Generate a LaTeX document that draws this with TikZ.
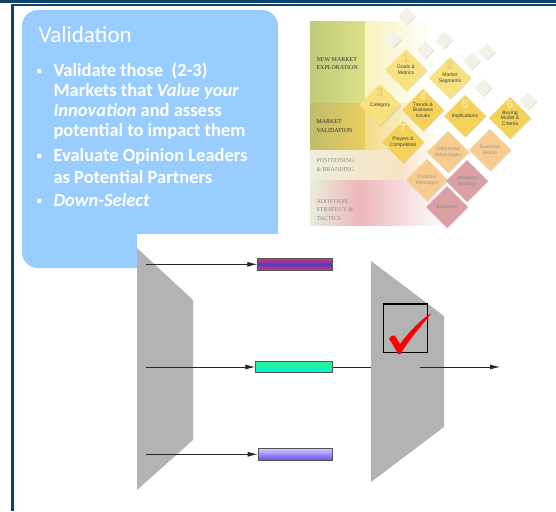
\documentclass[tikz,border=0pt]{standalone}
\usepackage{fontspec}
\setmainfont{Carlito}
\newfontfamily\chartsans{Liberation Sans}
\newfontfamily\chartserif{Liberation Serif}
\usetikzlibrary{shapes.geometric, arrows.meta, shadows}
\definecolor{navy}{HTML}{0D4169}
\definecolor{boxblue}{HTML}{99CCFF}
\definecolor{olivea}{HTML}{C0CA78}
\definecolor{oliveb}{HTML}{DCE08A}
\definecolor{paleyel}{HTML}{F8F2BC}
\definecolor{olivec}{HTML}{BEBE6C}
\definecolor{golda}{HTML}{ECCD5E}
\definecolor{goldb}{HTML}{F2DC88}
\definecolor{palec}{HTML}{ECEFDC}
\definecolor{peachc}{HTML}{FAE2C4}
\definecolor{paled}{HTML}{EAEDD9}
\definecolor{pinkd}{HTML}{EDB7BA}
\definecolor{yellowdia}{HTML}{F7E27F}
\definecolor{golddia}{HTML}{F3D257}
\definecolor{peachdia}{HTML}{F8CB8E}
\definecolor{pinkdia}{HTML}{DBA0A3}
\definecolor{chipwhite}{HTML}{F3F1EA}
\definecolor{digityel}{HTML}{E6CF7C}
\definecolor{digitgold}{HTML}{FAE7A4}
\definecolor{panelgray}{HTML}{B3B3B3}
\definecolor{bargray}{HTML}{555555}
\definecolor{barred}{HTML}{E8325A}
\definecolor{barblue}{HTML}{4A3CD0}
\definecolor{bargreen}{HTML}{2DF08C}
\definecolor{barcyan}{HTML}{00F5E0}
\definecolor{barlav}{HTML}{CCCCFF}
\definecolor{barviolet}{HTML}{6A50F0}

\begin{document}
\begin{tikzpicture}[x=1pt, y=-1pt,
    bigdia/.style={diamond, aspect=1, minimum size=42pt, inner sep=0pt, align=center,
        font=\chartsans\fontsize{5}{5.6}\selectfont, text=black!75,
        drop shadow={shadow xshift=0.8pt, shadow yshift=-0.8pt, opacity=0.3, fill=black!40}},
    smalldia/.style={diamond, aspect=1, minimum size=17pt, inner sep=0pt, fill=chipwhite,
        drop shadow={shadow xshift=0.8pt, shadow yshift=-0.8pt, opacity=0.3, fill=black!40}},
    digit/.style={font=\chartsans\bfseries\fontsize{12}{12}\selectfont, text=digityel},
    bandlabel/.style={anchor=west, align=left, font=\chartserif\fontsize{6}{8.3}\selectfont},
    bulline/.style={anchor=base west, text=white, font=\bfseries\fontsize{18.5}{20}\selectfont},
    colbar/.style={draw=bargray, line width=0.8pt, minimum height=11.5pt, inner sep=0pt},
    flow/.style={-{Latex[length=10pt, width=5pt]}, line width=0.8pt, black!85}]
    \useasboundingbox (0,0) rectangle (556,511);
    \fill[white] (0,0) rectangle (556,511);

    \fill[navy] (0,0) rectangle (556,3);
    \fill[navy] (11,4.5) rectangle (556,6.3);
    \fill[navy] (11,4.5) rectangle (13.5,511);

    \fill (22,10) [boxblue, rounded corners=16pt] rectangle (278,268);
    \node (vtitle) at (35,42.7) [anchor=base west, text=white, font=\fontsize{23}{26}\selectfont] {Validation};
    \node (dota) at (39.3,71) [circle, fill=white, inner sep=0pt, minimum size=4.6pt] {};
    \node (la) at (50,76.7) [bulline] {Validate those\ \ (2-3)};
    \node (lb) at (50,96.7) [bulline] {Markets that \textit{Value your}};
    \node (lc) at (50,116.7) [bulline] {\textit{Innovation} and assess};
    \node (ld) at (50,136.7) [bulline] {potential to impact them};
    \node (dotb) at (39.3,156) [circle, fill=white, inner sep=0pt, minimum size=4.6pt] {};
    \node (le) at (50,161.7) [bulline] {Evaluate Opinion Leaders};
    \node (lf) at (50,183) [bulline] {as Potential Partners};
    \node (dotc) at (39.3,201) [circle, fill=white, inner sep=0pt, minimum size=4.6pt] {};
    \node (lg) at (50,206.7) [bulline] {\textit{Down-Select}};

    \shade (310,21.7) [left color=olivea, right color=oliveb] rectangle (365,103.3);
    \shade (365,21.7) [left color=paleyel, right color=white] rectangle (432,103.3);
    \shade (310,103.3) [left color=olivec, right color=golda] rectangle (365,150);
    \shade (365,103.3) [left color=goldb, right color=white] rectangle (440,150);
    \shade (310,150) [left color=palec, right color=peachc] rectangle (400,180);
    \shade (400,150) [left color=peachc, right color=white] rectangle (440,180);
    \shade (310,180) [left color=paled, right color=pinkd] rectangle (360,225);
    \shade (360,180) [left color=pinkd, right color=white] rectangle (445,225);

    \node (explore) at (313,63.5) [bandlabel, text=black!80] {NEW MARKET\\EXPLORATION};
    \node (validate) at (313,126) [bandlabel, text=black!80] {MARKET\\VALIDATION};
    \node (position) at (313,165) [bandlabel, text=black!45] {POSITIONING\\\& BRANDING};
    \node (adopt) at (313,210) [bandlabel, text=black!45] {ADOPTION,\\STRATEGY \&\\TACTICS};

    \node (ca) at (406.7,16) [smalldia] {};
    \node (cb) at (392.7,39.3) [smalldia] {};
    \node (cc) at (425,50) [smalldia] {};
    \node (cd) at (444,40) [smalldia] {};
    \node (ce) at (471.7,61) [smalldia] {};
    \node (cf) at (486.7,51.7) [smalldia] {};
    \node (cg) at (483.3,87.7) [smalldia] {};
    \node (ch) at (528.3,101) [smalldia] {};

    \node (goals) at (406,70) [bigdia, fill=yellowdia] {Goals \&\\Metrics};
    \node (segments) at (450,78) [bigdia, fill=yellowdia] {Market\\Segments};
    \node (category) at (380,105) [bigdia, fill=yellowdia] {Category};
    \node (trends) at (423,110) [bigdia, fill=golddia] {Trends \&\\Business\\Issues};
    \node (implic) at (465,116) [bigdia, fill=golddia] {Implications};
    \node (buying) at (510,118) [bigdia, fill=golddia] {Buying\\Model \&\\Criteria};
    \node (players) at (403,142) [bigdia, fill=golddia] {Players \&\\Competition};
    \node (diffadv) at (448,152) [bigdia, fill=peachdia, text=black!40] {Differential\\Advantages};
    \node (busmodel) at (490,150) [bigdia, fill=peachdia, text=black!40] {Business\\Model};
    \node (posmsg) at (427,180) [bigdia, fill=peachdia, text=black!40] {Position/\\Messages};
    \node (adoptstr) at (467,181) [bigdia, fill=pinkdia, text=black!45] {Adoption\\Strategy};
    \node (evidence) at (447,207) [bigdia, fill=pinkdia, text=black!45] {Evidence};

    \node (n1) at (goals.center) [digit, yshift=12pt] {1};
    \node (n2) at (segments.center) [digit, yshift=13pt] {2};
    \node (n3) at (category.center) [digit, yshift=13pt] {3};
    \node (n4) at (trends.center) [digit, text=digitgold, yshift=14pt] {4};
    \node (n5) at (implic.center) [digit, text=digitgold, yshift=12pt] {5};
    \node (n6) at (buying.center) [digit, text=digitgold, yshift=14pt] {6};
    \node (n7) at (players.center) [digit, text=digitgold, yshift=14pt] {7};

    \fill[white] (137,234) rectangle (556,500);
    \fill[panelgray] (137,248) -- (193,300) -- (193,440) -- (137,490) -- cycle;
    \fill[panelgray] (371,261) -- (444,316) -- (444,427) -- (371,482) -- cycle;

    \node (bara) at (295,264.3) [colbar, minimum width=74.6pt, top color=barred, bottom color=barred, middle color=barblue] {};
    \node (barb) at (294,367) [colbar, minimum width=76.6pt, top color=bargreen, bottom color=barcyan] {};
    \node (barc) at (295,454.3) [colbar, minimum width=74pt, top color=barlav, bottom color=barviolet] {};

    \coordinate (ina) at (146,264.3);
    \coordinate (inb) at (146,367);
    \coordinate (inc) at (146,454.3);
    \coordinate (wallr) at (371,367);
    \coordinate (outa) at (420,367);
    \coordinate (outb) at (500,367);
    \draw[flow] (ina) -- (bara.west);
    \draw[flow] (inb) -- (barb.west);
    \draw[flow] (inc) -- (barc.west);
    \draw[line width=0.8pt, black!85] (barb.east) -- (wallr);
    \draw[flow] (outa) -- (outb);

    \node (chkbox) at (405.5,328.2) [draw=black, line width=1.6pt, minimum width=44pt, minimum height=48.5pt, inner sep=0pt] {};
    \fill[red] (389,339) .. controls (390,336) and (392,335) .. (395,335.5) -- (400,344)
        .. controls (410,331) and (420,320) .. (431.5,313)
        .. controls (423,324) and (410,338) .. (400.5,354) -- (398,354)
        .. controls (395,348) and (392,343) .. (389,339) -- cycle;
\end{tikzpicture}
\end{document}
